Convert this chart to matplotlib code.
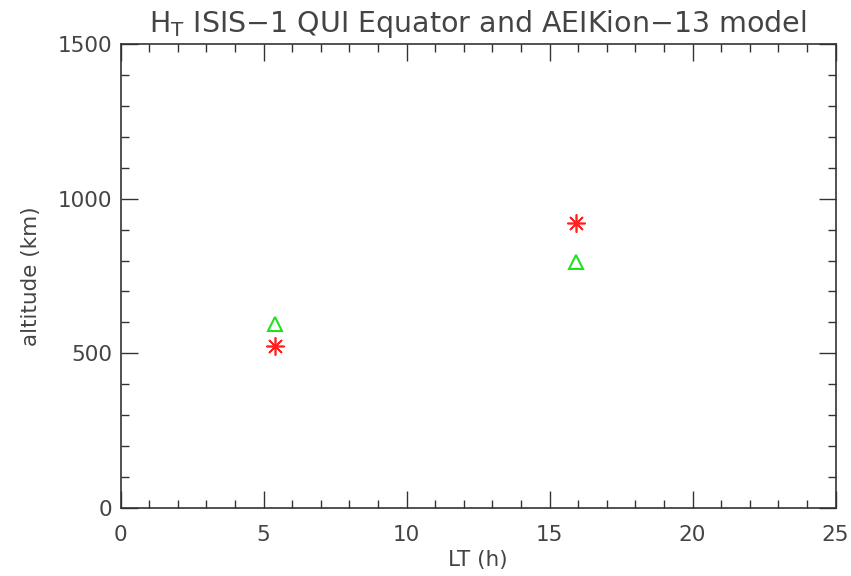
import matplotlib
matplotlib.use("Agg")
import matplotlib.pyplot as plt
from matplotlib.ticker import MultipleLocator

obs_lt = [5.40, 15.93]
obs_alt = [525, 921]
model_lt = [5.40, 15.93]
model_alt = [594, 794]

plt.rcParams['font.family'] = ['DejaVu Sans']
fig = plt.figure(figsize=(8.51, 5.76), dpi=100)
ax = fig.add_axes([120.5/851, 1-508/576, (835.5-120.5)/851, (508-44)/576])

ax.plot(obs_lt, obs_alt, linestyle='none', marker=(8, 2, 0), color='#ff2020', markersize=13, markeredgewidth=1.2)
ax.plot(model_lt, model_alt, linestyle='none', marker='^', markerfacecolor='none', markeredgecolor='#20e020', markersize=10, markeredgewidth=1.5)

ax.set_xlim(0, 25)
ax.set_ylim(0, 1500)
ax.xaxis.set_major_locator(MultipleLocator(5))
ax.xaxis.set_minor_locator(MultipleLocator(1))
ax.yaxis.set_major_locator(MultipleLocator(500))
ax.yaxis.set_minor_locator(MultipleLocator(100))
ax.tick_params(which='both', direction='in', top=True, right=True, colors='#333333', labelcolor='#444444', labelsize=15.5, width=1)
ax.tick_params(which='major', length=12)
ax.tick_params(which='minor', length=6)
ax.tick_params(axis='x', pad=12)
ax.tick_params(axis='y', pad=6)
for s in ax.spines.values():
    s.set_color('#333333')
    s.set_linewidth(1.2)

ax.set_xlabel('LT (h)', fontsize=15.5, color='#444444', labelpad=4)
ax.set_ylabel('altitude (km)', fontsize=15.5, color='#444444', labelpad=12)
ax.set_title('H$_\\mathregular{T}$ ISIS\u22121 QUI Equator and AEIKion\u221213 model', fontsize=20.5, color='#444444', pad=9)

fig.savefig('out.png', dpi=100)
